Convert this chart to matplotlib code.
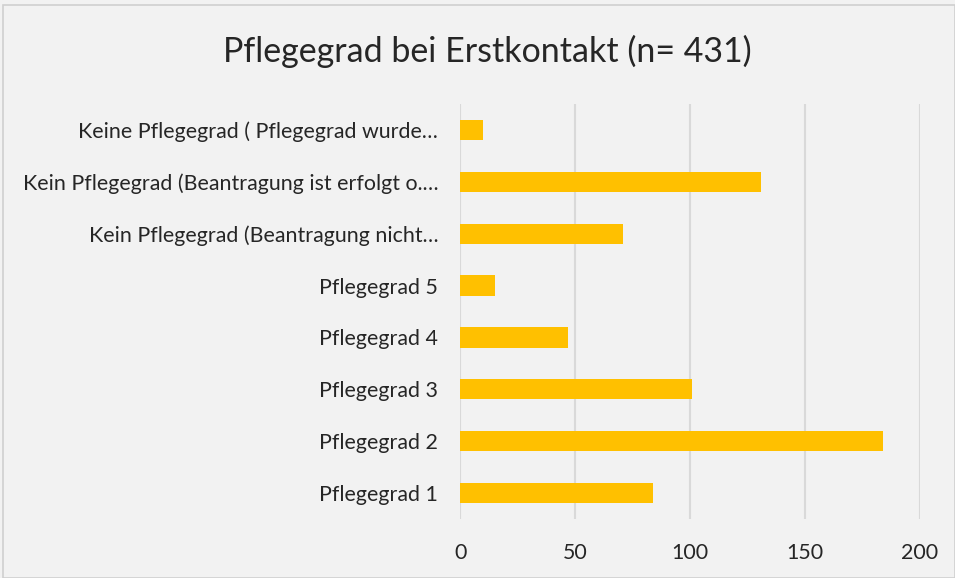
import matplotlib.pyplot as plt
from matplotlib.patches import Rectangle

# Kategorien (von unten nach oben) und Anzahl
kategorien = [
    "Pflegegrad 1",
    "Pflegegrad 2",
    "Pflegegrad 3",
    "Pflegegrad 4",
    "Pflegegrad 5",
    "Kein Pflegegrad (Beantragung nicht…",
    "Kein Pflegegrad (Beantragung ist erfolgt o.…",
    "Keine Pflegegrad ( Pflegegrad wurde…",
]
anzahl = [84, 184, 101, 47, 15, 71, 131, 10]
x_ticks = [0, 50, 100, 150, 200]

plt.rcParams['font.family'] = ['Lato', 'DejaVu Sans']

fig = plt.figure(figsize=(9.55, 5.78), dpi=100, facecolor='#f2f2f2')
ax = fig.add_axes([0.482, 0.102, 0.481, 0.718])
ax.set_facecolor('#f2f2f2')

# Rahmen um das Diagramm
fig.patches.append(Rectangle((0.003, 0.0), 0.997, 0.991, transform=fig.transFigure,
                             fill=False, edgecolor='#d0d0d0', linewidth=1.2))

ax.barh(range(len(kategorien)), anzahl, height=0.39, color='#ffc000', zorder=3)

ax.set_xlim(0, 200)
ax.set_ylim(-0.5, len(kategorien) - 0.5)
ax.set_xticks(x_ticks)
ax.set_yticks(range(len(kategorien)))
ax.set_yticklabels(kategorien)
ax.grid(axis='x', color='#d9d9d9', linewidth=1.5, zorder=0)
ax.tick_params(axis='both', length=0, labelsize=15.4, colors='#262626')
ax.tick_params(axis='y', pad=16)
ax.tick_params(axis='x', pad=17)
for s in ax.spines.values():
    s.set_visible(False)

fig.suptitle('Pflegegrad bei Erstkontakt (n= 431)', x=0.51, y=0.94, fontsize=24.5, color='#262626')

fig.savefig('out.png', dpi=100, facecolor=fig.get_facecolor())
